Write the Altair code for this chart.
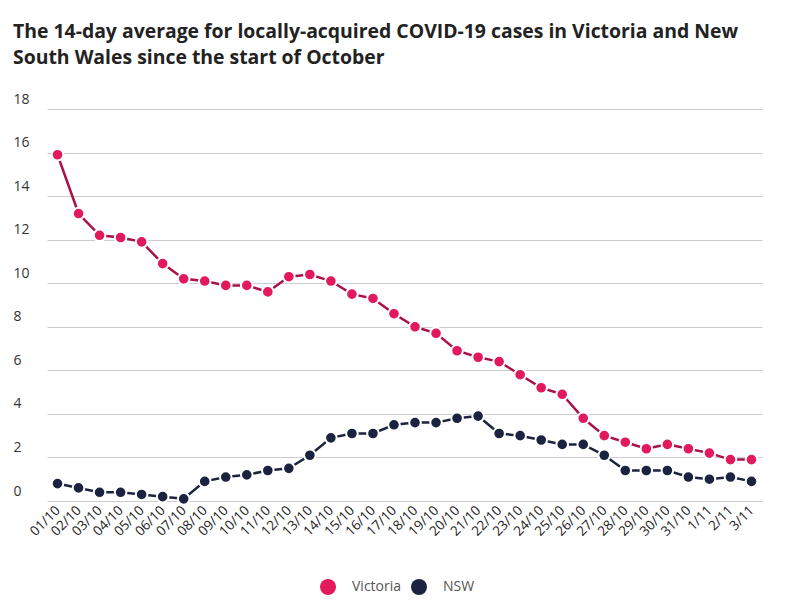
import altair as alt
import pandas as pd

dates = ["01/10", "02/10", "03/10", "04/10", "05/10", "06/10", "07/10", "08/10", "09/10", "10/10",
         "11/10", "12/10", "13/10", "14/10", "15/10", "16/10", "17/10", "18/10", "19/10", "20/10",
         "21/10", "22/10", "23/10", "24/10", "25/10", "26/10", "27/10", "28/10", "29/10", "30/10",
         "31/10", "1/11", "2/11", "3/11"]
victoria = [15.9, 13.2, 12.2, 12.1, 11.9, 10.9, 10.2, 10.1, 9.9, 9.9,
            9.6, 10.3, 10.4, 10.1, 9.5, 9.3, 8.6, 8.0, 7.7, 6.9,
            6.6, 6.4, 5.8, 5.2, 4.9, 3.8, 3.0, 2.7, 2.4, 2.6,
            2.4, 2.2, 1.9, 1.9]
nsw = [0.8, 0.6, 0.4, 0.4, 0.3, 0.2, 0.1, 0.9, 1.1, 1.2,
       1.4, 1.5, 2.1, 2.9, 3.1, 3.1, 3.5, 3.6, 3.6, 3.8,
       3.9, 3.1, 3.0, 2.8, 2.6, 2.6, 2.1, 1.4, 1.4, 1.4,
       1.1, 1.0, 1.1, 0.9]
series = ["Victoria", "NSW"]
point_colors = ["#e2195b", "#1b2340"]
line_colors = ["#ab1149", "#1b2340"]

rows = []
for name, vals in zip(series, [victoria, nsw]):
    for d, v in zip(dates, vals):
        rows.append({"date": d, "value": v, "state": name})
df = pd.DataFrame(rows)

FONT = "Open Sans"

x_enc = alt.X("date:N", sort=dates, title=None,
              scale=alt.Scale(type="point", range=[34, 749]),
              axis=alt.Axis(labelAngle=-45, labelAlign="right", labelBaseline="middle",
                            labelPadding=7, ticks=False, domain=False, grid=False,
                            labelFont=FONT, labelFontSize=13.5, labelColor="#222",
                            labelOverlap=False))
y_enc = alt.Y("value:Q", title=None,
              scale=alt.Scale(domain=[0, 18], nice=False),
              axis=alt.Axis(values=[0, 2, 4, 6, 8, 10, 12, 14, 16, 18], ticks=False, tickSize=0,
                            domain=False, labelAlign="left", labelBaseline="alphabetic",
                            labelPadding=0, labelOffset=-6, labelFont=FONT, labelFontSize=14,
                            labelColor="#333", gridColor="#cccccc", gridWidth=1))

base = alt.Chart(df)

lines = base.mark_line(strokeWidth=2.5).encode(
    x=x_enc, y=y_enc,
    color=alt.Color("state:N", scale=alt.Scale(domain=series, range=line_colors),
                    legend=None),
)

points = base.mark_point(filled=True, shape="circle", size=135, opacity=1,
                         stroke="white", strokeWidth=2).encode(
    x=x_enc, y=y_enc,
    fill=alt.Fill("state:N", scale=alt.Scale(domain=series, range=point_colors),
                  legend=alt.Legend(title=None, orient="none", legendX=307, legendY=470,
                                    direction="horizontal", symbolType="circle",
                                    symbolSize=256, symbolStrokeWidth=0,
                                    labelFont=FONT, labelFontSize=14, labelColor="#555",
                                    labelOffset=16, columnPadding=9)),
)

chart = alt.layer(lines, points).resolve_scale(color="independent", fill="independent").properties(
    width=760, height=392,
    padding={"left": 5, "top": 13, "right": 5, "bottom": 5},
    title=alt.TitleParams(
        ["The 14-day average for locally-acquired COVID-19 cases in Victoria and New",
         "South Wales since the start of October"],
        anchor="start", font=FONT, fontSize=19.4, fontWeight="bold", color="#222",
        lineHeight=26, offset=24),
).configure_view(stroke=None)

chart.save("out.html", embed_options={"renderer": "svg", "actions": False})
